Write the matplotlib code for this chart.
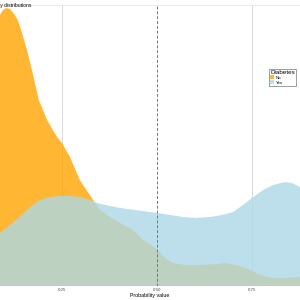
import matplotlib
matplotlib.use('Agg')
import matplotlib.pyplot as plt
from matplotlib.patches import Patch

# density of predicted probability, class "No"
x_no = [0.074, 0.087, 0.095, 0.103, 0.113, 0.124, 0.134, 0.145, 0.158, 0.174,
        0.189, 0.211, 0.226, 0.239, 0.250, 0.271, 0.297, 0.332, 0.350, 0.376,
        0.403, 0.437, 0.463, 0.482, 0.500, 0.521, 0.542, 0.574, 0.613, 0.653,
        0.684, 0.718, 0.745, 0.771, 0.789, 0.816, 0.842, 0.876, 0.903]
d_no = [2.816, 2.924, 2.978, 3.000, 2.989, 2.935, 2.870, 2.730, 2.546, 2.277,
        2.007, 1.791, 1.683, 1.597, 1.543, 1.392, 1.144, 0.928, 0.820, 0.745,
        0.680, 0.604, 0.496, 0.453, 0.400, 0.302, 0.248, 0.227, 0.227, 0.237,
        0.248, 0.216, 0.173, 0.119, 0.097, 0.086, 0.086, 0.097, 0.108]

# density of predicted probability, class "Yes"
x_yes = [0.061, 0.087, 0.113, 0.139, 0.166, 0.192, 0.218, 0.245, 0.271, 0.297,
         0.324, 0.342, 0.376, 0.403, 0.442, 0.482, 0.500, 0.534, 0.568, 0.605,
         0.639, 0.671, 0.700, 0.726, 0.753, 0.779, 0.805, 0.837, 0.855, 0.876,
         0.903]
d_yes = [0.496, 0.572, 0.658, 0.745, 0.852, 0.928, 0.960, 0.971, 0.971, 0.960,
         0.928, 0.896, 0.863, 0.842, 0.820, 0.798, 0.788, 0.766, 0.745, 0.734,
         0.745, 0.766, 0.798, 0.874, 0.960, 1.036, 1.090, 1.122, 1.111, 1.068,
         1.003]

groups = ['No', 'Yes']
colors = ['orange', 'lightblue']
threshold = 0.5

plt.rcParams['font.family'] = ['Liberation Sans', 'DejaVu Sans']

fig = plt.figure(figsize=(3, 3), dpi=100)
ax = fig.add_axes([0, 14 / 300, 1, 281 / 300])

for xv in [0.25, 0.75]:
    ax.axvline(xv, color='#cccccc', lw=0.5, zorder=0)

ax.fill_between(x_no, 0, d_no, color=colors[0], alpha=0.8, lw=0, zorder=1)
ax.fill_between(x_yes, 0, d_yes, color=colors[1], alpha=0.8, lw=0, zorder=2)
ax.axvline(threshold, color='#e0483e', lw=0.7, linestyle=(0, (3, 2)), zorder=3)

ax.set_xlim(0.087, 0.876)
ax.set_ylim(0, 3.032)
ax.set_yticks([])
ax.set_xticks([0.25, 0.5, 0.75])
ax.set_xticklabels(['0.25', '0.50', '0.75'], fontsize=3.2, color='#4d4d4d')
ax.tick_params(axis='x', length=0, pad=1.5)
ax.set_xlabel('Probability value', fontsize=3.8, labelpad=0.5)
for s in ['left', 'right', 'bottom']:
    ax.spines[s].set_visible(False)
ax.spines['top'].set_color('#e6e6e6')
ax.spines['top'].set_linewidth(0.5)

fig.text(31 / 300, 1 - 5 / 300, 'Probability distributions', ha='right',
         va='center', fontsize=3.6)

handles = [Patch(facecolor=c, alpha=0.8, label=g) for g, c in zip(groups, colors)]
leg = ax.legend(handles=handles, title='Diabetes', loc='upper left',
                bbox_to_anchor=(269 / 300, 1 - 69 / 300),
                bbox_transform=fig.transFigure, fontsize=3.2, title_fontsize=4.5,
                handlelength=0.9, handleheight=1.0, handletextpad=0.3,
                borderpad=0.25, labelspacing=0.05, fancybox=False,
                framealpha=1, edgecolor='#555555', alignment='left',
                borderaxespad=0)
leg.get_frame().set_linewidth(0.4)

fig.savefig('out.png', dpi=100)
